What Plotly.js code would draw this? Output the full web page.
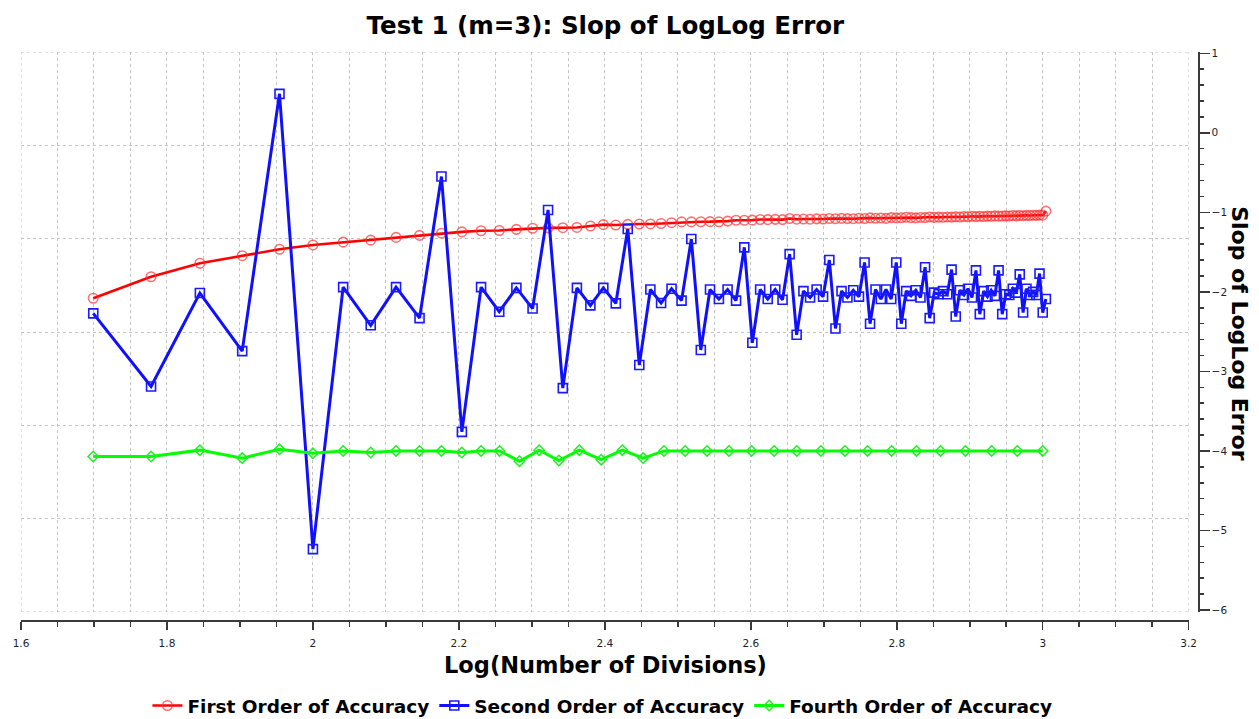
<!DOCTYPE html>
<html>
<head>
<meta charset="utf-8">
<script src="https://cdn.plot.ly/plotly-3.0.1.min.js"></script>
<style>
  html, body { margin: 0; padding: 0; background: #ffffff; }
  #chart { width: 1259px; height: 719px; }
</style>
</head>
<body>
<div id="chart"></div>
<script>
// log10(number of divisions) for first and second order series
const logN = [
  1.6990, 1.7782, 1.8451, 1.9031, 1.9542, 2.0000, 2.0414, 2.0792, 2.1139, 2.1461,
  2.1761, 2.2041, 2.2304, 2.2553, 2.2788, 2.3010, 2.3222, 2.3424, 2.3617, 2.3802,
  2.3979, 2.4150, 2.4314, 2.4472, 2.4624, 2.4771, 2.4914, 2.5051, 2.5185, 2.5315,
  2.5441, 2.5563, 2.5682, 2.5798, 2.5911, 2.6021, 2.6128, 2.6232, 2.6335, 2.6435,
  2.6532, 2.6628, 2.6721, 2.6812, 2.6902, 2.6990, 2.7076, 2.7160, 2.7243, 2.7324,
  2.7404, 2.7482, 2.7559, 2.7634, 2.7709, 2.7782, 2.7853, 2.7924, 2.7993, 2.8062,
  2.8129, 2.8195, 2.8261, 2.8325, 2.8388, 2.8451, 2.8513, 2.8573, 2.8633, 2.8692,
  2.8751, 2.8808, 2.8865, 2.8921, 2.8976, 2.9031, 2.9085, 2.9138, 2.9191, 2.9243,
  2.9294, 2.9345, 2.9395, 2.9445, 2.9494, 2.9542, 2.9590, 2.9638, 2.9685, 2.9731,
  2.9777, 2.9823, 2.9868, 2.9912, 2.9956, 3.0000, 3.0043
];

const firstOrder = [
  -2.08, -1.81, -1.64, -1.545, -1.465, -1.41, -1.375, -1.35, -1.315, -1.29,
  -1.262, -1.246, -1.231, -1.228, -1.214, -1.20, -1.195, -1.193, -1.19, -1.172,
  -1.155, -1.16, -1.151, -1.147, -1.146, -1.14, -1.13, -1.12, -1.12, -1.118,
  -1.117, -1.118, -1.11, -1.10, -1.10, -1.098, -1.09, -1.092, -1.088, -1.091,
  -1.078, -1.086, -1.084, -1.086, -1.082, -1.084, -1.078, -1.081, -1.076, -1.079,
  -1.08, -1.074, -1.077, -1.07, -1.074, -1.072, -1.076, -1.066, -1.07, -1.068,
  -1.062, -1.067, -1.07, -1.064, -1.066, -1.058, -1.063, -1.06, -1.062, -1.058,
  -1.06, -1.055, -1.058, -1.052, -1.056, -1.05, -1.054, -1.05, -1.052, -1.047,
  -1.05, -1.045, -1.048, -1.046, -1.044, -1.046, -1.04, -1.044, -1.04, -1.042,
  -1.038, -1.04, -1.036, -1.038, -1.035, -1.036, -0.985
];

const secondOrder = [
  -2.27, -3.19, -2.015, -2.745, 0.49, -5.235, -1.94, -2.42, -1.94, -2.33,
  -0.55, -3.76, -1.94, -2.25, -1.95, -2.21, -0.97, -3.21, -1.95, -2.17,
  -1.95, -2.145, -1.21, -2.92, -1.97, -2.14, -1.96, -2.11, -1.336, -2.73,
  -1.97, -2.09, -1.97, -2.11, -1.44, -2.64, -1.97, -2.09, -1.97, -2.10,
  -1.525, -2.54, -1.99, -2.07, -1.97, -2.06, -1.60, -2.46, -1.99, -2.07,
  -1.98, -2.06, -1.63, -2.40, -1.97, -2.09, -1.97, -2.09, -1.63, -2.40,
  -1.99, -2.05, -1.98, -2.07, -1.69, -2.33, -2.01, -2.03, -1.99, -2.03,
  -1.72, -2.31, -1.98, -2.04, -1.96, -2.07, -1.73, -2.28, -1.99, -2.06,
  -1.98, -2.05, -1.73, -2.28, -2.03, -2.04, -1.96, -2.01, -1.78, -2.26,
  -1.96, -2.04, -2.00, -2.04, -1.77, -2.26, -2.09
];

// fourth order series uses its own set of divisions
const logNGreen = [
  1.6990, 1.7782, 1.8451, 1.9031, 1.9542, 2.0000, 2.0414, 2.0792, 2.1139, 2.1461,
  2.1761, 2.2041, 2.2304, 2.2558, 2.283, 2.310, 2.337, 2.365, 2.395, 2.424,
  2.4525, 2.481, 2.510, 2.540, 2.570, 2.601, 2.632, 2.663, 2.696, 2.729,
  2.760, 2.793, 2.827, 2.860, 2.894, 2.930, 2.965, 3.000
];

const fourthOrder = [
  -4.07, -4.07, -3.99, -4.09, -3.98, -4.03, -4.00, -4.02, -4.00, -4.00,
  -4.00, -4.02, -4.00, -4.00, -4.13, -3.99, -4.12, -3.99, -4.11, -3.99,
  -4.09, -4.00, -4.00, -4.00, -4.00, -4.00, -4.00, -4.00, -4.00, -4.00,
  -4.00, -4.00, -4.00, -4.00, -4.00, -4.00, -4.00, -4.00
];

const seriesNames = ['First Order of Accuracy', 'Second Order of Accuracy', 'Fourth Order of Accuracy'];
const titleText = 'Test 1 (m=3): Slop of LogLog Error';
const xTitleText = 'Log(Number of Divisions)';
const yTitleText = 'Slop of LogLog Error';
const xRange = [1.6, 3.2];
const gridRange = [0, 6];

const FONT = "'DejaVu Sans', Verdana, sans-serif";
const gridColor = '#c4c4c4';
const axisColor = '#3a3a3a';
const X_DOMAIN_END = 0.99209;
const Y_DOMAIN_START = 0.0141;

const traces = [
  {
    x: logN, y: firstOrder, name: seriesNames[0], type: 'scatter', mode: 'lines+markers',
    line: {color: '#ff0000', width: 2.6},
    marker: {symbol: 'circle-open', size: 9.5, color: 'rgba(255,50,50,0.7)', line: {width: 1.6, color: 'rgba(255,50,50,0.7)'}}
  },
  {
    x: logN, y: secondOrder, name: seriesNames[1], type: 'scatter', mode: 'lines+markers',
    line: {color: '#1010ff', width: 3},
    marker: {symbol: 'square-open', size: 9, color: '#1a1aff', line: {width: 1.6, color: '#1a1aff'}}
  },
  {
    x: logNGreen, y: fourthOrder, name: seriesNames[2], type: 'scatter', mode: 'lines+markers',
    line: {color: '#00ff00', width: 3},
    marker: {symbol: 'diamond-open', size: 8, color: '#22ee22', line: {width: 1.5, color: '#22ee22'}}
  },
  // invisible point on the grid axis so its dotted grid is drawn
  {x: [xRange[0]], y: [gridRange[0]], yaxis: 'y2', type: 'scatter', mode: 'markers',
   marker: {opacity: 0}, showlegend: false, hoverinfo: 'skip'}
];

const dotLine = {color: gridColor, width: 1, dash: 'dot'};

const layout = {
  width: 1259, height: 719,
  paper_bgcolor: '#ffffff', plot_bgcolor: 'rgba(0,0,0,0)',
  margin: {l: 21, r: 61, t: 52, b: 99, pad: 0, autoexpand: false},
  font: {family: FONT, color: '#1e1e2a'},
  showlegend: true,
  title: {
    text: titleText, xref: 'paper', x: 0.4965, xanchor: 'center',
    yref: 'container', y: 1 - 25 / 719, yanchor: 'middle',
    font: {family: FONT, size: 24.5, weight: 'bold', color: '#000000'}
  },
  xaxis: {
    domain: [0, X_DOMAIN_END], range: xRange, anchor: 'free', position: 0,
    showline: true, linecolor: axisColor, linewidth: 1.5,
    ticks: 'outside', ticklen: 8, tickwidth: 1.5, tickcolor: axisColor,
    tick0: 1.6, dtick: 0.2, ticklabelstandoff: 5,
    showgrid: true, gridcolor: gridColor, griddash: 'dot', gridwidth: 1,
    minor: {dtick: 0.05, tick0: 1.6, ticks: 'outside', ticklen: 5, tickwidth: 1.5, tickcolor: axisColor,
            showgrid: true, gridcolor: gridColor, griddash: 'dot', gridwidth: 1},
    zeroline: false, automargin: false,
    tickfont: {family: FONT, size: 10.5, color: '#1e1e2a'}
  },
  yaxis: {
    domain: [Y_DOMAIN_START, 1], range: [-6.025, 1.016], side: 'right', anchor: 'free', position: 1,
    showline: true, linecolor: axisColor, linewidth: 1.5,
    ticks: 'outside', ticklen: 10, tickwidth: 1.5, tickcolor: axisColor,
    tick0: 0, dtick: 1,
    minor: {dtick: 0.2, ticks: 'outside', ticklen: 4, tickwidth: 1.5, tickcolor: axisColor, showgrid: false},
    showgrid: false, zeroline: false, automargin: false,
    tickfont: {family: FONT, size: 10.5, color: '#1e1e2a'}
  },
  yaxis2: {
    overlaying: 'y', range: gridRange, dtick: 1, tick0: 0, side: 'left', anchor: 'free', position: 0,
    showgrid: true, gridcolor: gridColor, griddash: 'dot', gridwidth: 1,
    showticklabels: false, ticks: '', showline: false, zeroline: false, automargin: false
  },
  legend: {
    orientation: 'h', x: 0.494, xanchor: 'center', y: -0.1514, yanchor: 'middle',
    font: {family: FONT, size: 18.5, weight: 'bold', color: '#000000'},
    bgcolor: 'rgba(0,0,0,0)', itemwidth: 30, tracegroupgap: 0
  },
  shapes: [
    {type: 'line', xref: 'x', yref: 'y2', x0: xRange[0], x1: xRange[1], y0: gridRange[1], y1: gridRange[1], line: dotLine, layer: 'below'},
    {type: 'line', xref: 'x', yref: 'y2', x0: xRange[0], x1: xRange[1], y0: gridRange[0], y1: gridRange[0], line: dotLine, layer: 'below'},
    {type: 'line', xref: 'x', yref: 'y2', x0: xRange[0], x1: xRange[0], y0: gridRange[0], y1: gridRange[1], line: dotLine, layer: 'below'},
    {type: 'line', xref: 'x', yref: 'y2', x0: xRange[1], x1: xRange[1], y0: gridRange[0], y1: gridRange[1], line: dotLine, layer: 'below'}
  ],
  annotations: [
    {
      text: xTitleText, xref: 'paper', yref: 'paper', x: 0.4965, y: -0.0792,
      xanchor: 'center', yanchor: 'middle', showarrow: false,
      font: {family: FONT, size: 22.5, weight: 'bold', color: '#000000'}
    },
    {
      text: yTitleText, xref: 'paper', yref: 'paper', x: 1.0357, y: 0.505,
      xanchor: 'center', yanchor: 'middle', showarrow: false, textangle: 90,
      font: {family: FONT, size: 22, weight: 'bold', color: '#000000'}
    }
  ]
};

Plotly.newPlot('chart', traces, layout, {displayModeBar: false, staticPlot: true});
</script>
</body>
</html>
